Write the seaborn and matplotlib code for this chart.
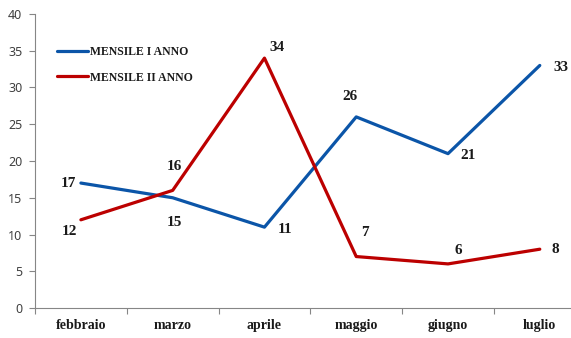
import matplotlib
matplotlib.use("Agg")
import matplotlib.pyplot as plt
import seaborn as sns
import pandas as pd
import numpy as np

months = ["febbraio", "marzo", "aprile", "maggio", "giugno", "luglio"]
series_names = ["MENSILE I ANNO", "MENSILE II ANNO"]
anno1 = [17, 15, 11, 26, 21, 33]
anno2 = [12, 16, 34, 7, 6, 8]
colors = ["#0B55A8", "#BC0000"]

# label offsets in pixels (dx, dy) relative to each point
off1 = [(-12, 0), (2, -25), (21, -2), (-6, 20), (20, -2), (21, -2)]
off2 = [(-11, -12), (2, 24), (13, 11), (9, 24), (10, 13), (16, 0)]

df = pd.DataFrame({
    "x": list(range(len(months))) * 2,
    "value": anno1 + anno2,
    "serie": [series_names[0]] * len(months) + [series_names[1]] * len(months),
})

sns.set_style("white")
W, H = 571, 338
fig = plt.figure(figsize=(W / 100, H / 100), dpi=100)
ax = fig.add_axes([35 / W, 30 / H, 1 - 35 / W, (308 - 14) / H])

sns.lineplot(data=df, x="x", y="value", hue="serie", palette=colors,
             linewidth=2.3, sort=False, ax=ax, legend=True)

ax.set_yticks(np.arange(0, 41, 5))
ax.set_xticks(range(len(months)))
ax.set_xticklabels(months, fontfamily="Liberation Serif", fontweight="bold",
                   fontsize=10, color="#1a1a1a")
ax.set_xticks(np.arange(-0.5, 6, 1), minor=True)
ax.set_ylim(0, 40)
ax.set_xlim(-0.5, 5.34)
ax.tick_params(axis="x", which="major", length=0, pad=8)
ax.tick_params(axis="x", which="minor", length=4, width=0.8, color="#868686",
               direction="out", bottom=True)
ax.tick_params(axis="y", length=4, width=0.8, color="#868686", direction="out",
               left=True, pad=5, labelsize=9, labelcolor="#404040")
for lab in ax.get_yticklabels():
    lab.set_fontfamily("Noto Sans")
ax.set_xlabel("")
ax.set_ylabel("")
for s in ["top", "right"]:
    ax.spines[s].set_visible(False)
for s in ["left", "bottom"]:
    ax.spines[s].set_color("#868686")
    ax.spines[s].set_linewidth(0.8)

for vals, offs in ((anno1, off1), (anno2, off2)):
    for i, (v, (dx, dy)) in enumerate(zip(vals, offs)):
        ax.annotate(str(v), (i, v), xytext=(dx, dy), textcoords="offset pixels",
                    ha="center", va="center", fontfamily="Liberation Serif",
                    fontweight="bold", fontsize=11, color="#1a1a1a")

leg = ax.legend(loc="upper left", bbox_to_anchor=(57 / W, 1 - 46 / H),
                bbox_transform=fig.transFigure, frameon=False,
                borderpad=0, borderaxespad=0, handlelength=2.6,
                handletextpad=0.2, labelspacing=1.15,
                prop={"family": "Liberation Serif", "weight": "bold", "size": 8.5})
for t in leg.get_texts():
    t.set_color("#1a1a1a")
for lh in leg.get_lines():
    lh.set_linewidth(2.3)

fig.savefig("out.png", dpi=100)
